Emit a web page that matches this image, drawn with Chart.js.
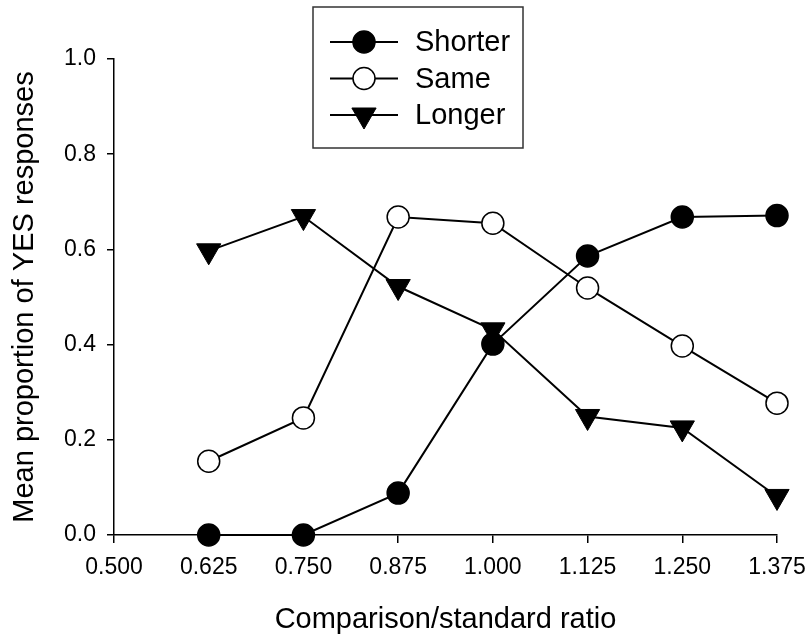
<!DOCTYPE html>
<html>
<head>
<meta charset="utf-8">
<script src="https://cdn.jsdelivr.net/npm/chart.js@4.4.0/dist/chart.umd.min.js"></script>
<style>
    html, body { margin: 0; padding: 0; background: #fff; }
</style>
</head>
<body>
<canvas id="myChart" width="810" height="634"></canvas>
<script>
// values
var ratios = [0.625, 0.750, 0.875, 1.000, 1.125, 1.250, 1.375];
var shorter = [0.0, 0.0, 0.088, 0.401, 0.586, 0.668, 0.671];
var same = [0.155, 0.246, 0.668, 0.655, 0.519, 0.397, 0.277];
var longer = [0.597, 0.669, 0.522, 0.431, 0.249, 0.225, 0.081];
var seriesNames = ['Shorter', 'Same', 'Longer'];
var xTickValues = [0.500, 0.625, 0.750, 0.875, 1.000, 1.125, 1.250, 1.375];
var yTickValues = [0.0, 0.2, 0.4, 0.6, 0.8, 1.0];

var FONT = 'Arial, "Liberation Sans", Helvetica, sans-serif';

function toPoints(vals){
    return vals.map(function(v, i){ return {x: ratios[i], y: v}; });
}

// legend box drawn on top of the plot, like the original
var boxLegend = {
    id: 'boxLegend',
    afterDraw: function(chart){
        var ctx = chart.ctx;
        ctx.save();
        ctx.strokeStyle = '#333';
        ctx.lineWidth = 1.5;
        ctx.fillStyle = '#fff';
        ctx.fillRect(313, 7, 210, 141);
        ctx.strokeRect(313, 7, 210, 141);
        chart.data.datasets.forEach(function(ds, i){
            var y = 42 + i * 36.5;
            ctx.strokeStyle = '#000';
            ctx.lineWidth = 2;
            ctx.beginPath();
            ctx.moveTo(330, y);
            ctx.lineTo(398, y);
            ctx.stroke();
            ctx.fillStyle = ds.pointBackgroundColor;
            ctx.strokeStyle = ds.pointBorderColor;
            ctx.lineWidth = ds.pointBorderWidth;
            Chart.helpers.drawPoint(ctx, {
                pointStyle: ds.pointStyle,
                radius: ds.pointRadius,
                rotation: ds.pointRotation || 0,
                borderWidth: ds.pointBorderWidth
            }, 364, y);
            ctx.fillStyle = '#000';
            ctx.font = '29px ' + FONT;
            ctx.textBaseline = 'middle';
            ctx.textAlign = 'left';
            ctx.fillText(ds.label, 415, y + 1);
        });
        ctx.restore();
    }
};

var ctx = document.getElementById('myChart').getContext('2d');
var chart = new Chart(ctx, {
    type: 'scatter',
    data: {
        datasets: [
            {
                label: seriesNames[0],
                data: toPoints(shorter),
                showLine: true,
                borderColor: '#000',
                borderWidth: 2,
                pointStyle: 'circle',
                pointRadius: 11,
                pointBackgroundColor: '#000',
                pointBorderColor: '#000',
                pointBorderWidth: 1.5,
                clip: false
            },
            {
                label: seriesNames[1],
                data: toPoints(same),
                showLine: true,
                borderColor: '#000',
                borderWidth: 2,
                pointStyle: 'circle',
                pointRadius: 11,
                pointBackgroundColor: '#fff',
                pointBorderColor: '#000',
                pointBorderWidth: 1.5,
                clip: false
            },
            {
                label: seriesNames[2],
                data: toPoints(longer),
                showLine: true,
                borderColor: '#000',
                borderWidth: 2,
                pointStyle: 'triangle',
                pointRotation: 180,
                pointRadius: 14,
                pointBackgroundColor: '#000',
                pointBorderColor: '#000',
                pointBorderWidth: 1,
                clip: false
            }
        ]
    },
    options: {
        responsive: false,
        animation: false,
        layout: { padding: { top: 59, right: 33, left: 0, bottom: 0 } },
        plugins: {
            legend: { display: false },
            tooltip: { enabled: false }
        },
        scales: {
            x: {
                type: 'linear',
                min: 0.5,
                max: 1.375,
                afterBuildTicks: function(scale){
                    scale.ticks = xTickValues.map(function(v){ return {value: v}; });
                },
                afterFit: function(scale){
                    scale.height = 99;
                    scale.paddingLeft = 0;
                    scale.paddingRight = 0;
                },
                grid: { drawOnChartArea: false, drawTicks: true, tickLength: 8, color: '#000', lineWidth: 1.5 },
                border: { display: true, color: '#000', width: 1.5 },
                ticks: {
                    color: '#000',
                    padding: 11,
                    maxRotation: 0,
                    font: { family: FONT, size: 23 },
                    callback: function(v){ return Number(v).toFixed(3); }
                },
                title: {
                    display: true,
                    text: 'Comparison/standard ratio',
                    color: '#000',
                    font: { family: FONT, size: 29, lineHeight: 1.0 },
                    padding: { top: 0, bottom: 0 }
                }
            },
            y: {
                min: 0,
                max: 1,
                afterBuildTicks: function(scale){
                    scale.ticks = yTickValues.map(function(v){ return {value: v}; });
                },
                afterFit: function(scale){ scale.width = 114; },
                grid: { drawOnChartArea: false, drawTicks: true, tickLength: 7, color: '#000', lineWidth: 1.5 },
                border: { display: true, color: '#000', width: 1.5 },
                ticks: {
                    color: '#000',
                    padding: 11,
                    font: { family: FONT, size: 23 },
                    callback: function(v){ return Number(v).toFixed(1); }
                },
                title: {
                    display: true,
                    text: 'Mean proportion of YES responses',
                    color: '#000',
                    font: { family: FONT, size: 29 },
                    padding: { top: 8, bottom: 0 }
                }
            }
        }
    },
    plugins: [boxLegend]
});
</script>
</body>
</html>
